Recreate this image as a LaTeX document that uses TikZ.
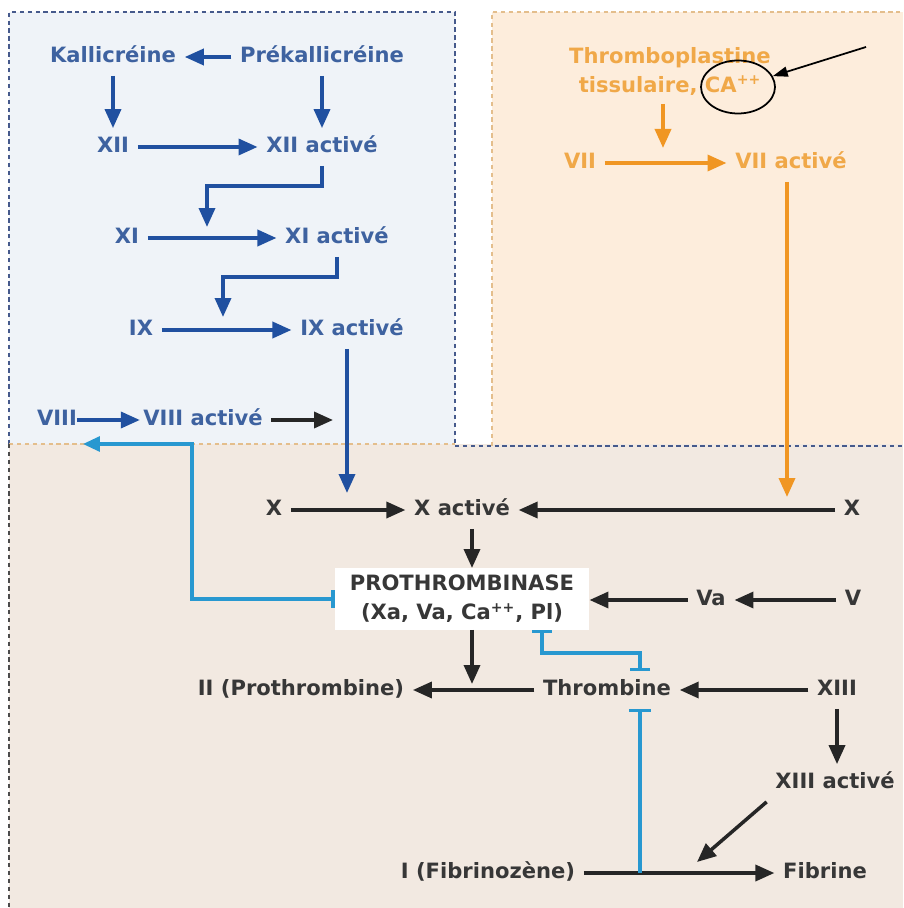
\documentclass[tikz,border=0pt]{standalone}
\usepackage{fontspec}
\setmainfont{DejaVu Sans}
\usetikzlibrary{arrows.meta,shapes.geometric}
\definecolor{bltxt}{RGB}{62,98,160}
\definecolor{blarr}{RGB}{32,80,160}
\definecolor{ortxt}{RGB}{240,168,72}
\definecolor{orarr}{RGB}{240,150,35}
\definecolor{bktxt}{RGB}{55,55,55}
\definecolor{cyinh}{RGB}{40,152,208}
\definecolor{bgbl}{RGB}{239,243,248}
\definecolor{bgor}{RGB}{253,237,220}
\definecolor{bgbt}{RGB}{242,233,225}
\definecolor{dtbl}{RGB}{70,90,140}
\definecolor{dtor}{RGB}{228,190,140}
\begin{document}
\begin{tikzpicture}[x=.02cm,y=-.02cm,
  lbl/.style={font=\fontsize{12}{16.5}\selectfont\bfseries,inner sep=2pt,outer sep=3pt,text height=9pt,text depth=2.5pt},
  lbltwo/.style={font=\fontsize{12}{16.5}\selectfont\bfseries,inner sep=2pt,outer sep=3pt,align=center},
  bl/.style={lbl,text=bltxt}, og/.style={lbl,text=ortxt}, bk/.style={lbl,text=bktxt},
  fl/.style={line width=2pt,-{Triangle[length=.38cm,width=.32cm]}},
  bfl/.style={fl,draw=blarr}, ofl/.style={fl,draw=orarr}, kfl/.style={fl,draw=black!85},
  inh/.style={line width=1.8pt,draw=cyinh},
  dot/.style={line width=1.6pt,dash pattern=on 2.5pt off 2pt}]
  \useasboundingbox (0,0) rectangle (903,908);
  \fill[bgbl] (9,12) rectangle (455,444); \fill[bgor] (492,12) rectangle (903,446); \fill[bgbt] (9,444) rectangle (903,908);
  \draw[dot,dtbl] (9,444) -- (9,12) -- (455,12) -- (455,444); \draw[dot,dtor] (492,446) -- (492,12) -- (903,12);
  \draw[dot,dtor] (9,444) -- (455,444); \draw[dot,dtbl] (455,446) -- (903,446); \draw[dot,black!70] (9,444) -- (9,908);

  \node[bl] (kal) at (113,57) {Kallicréine}; \node[bl] (prek) at (322,57) {Prékallicréine};
  \node[bl] (xii) at (113,147) {XII}; \node[bl] (xiia) at (322,147) {XII activé};
  \node[bl] (xi) at (127,238) {XI}; \node[bl] (xia) at (337,238) {XI activé};
  \node[bl] (ix) at (141,330) {IX}; \node[bl] (ixa) at (352,330) {IX activé};
  \node[bl] (viii) at (57,420) {VIII}; \node[bl] (viiia) at (203,420) {VIII activé};
  \node[lbltwo,text=ortxt] (thr) at (670,71) {Thromboplastine\\tissulaire, CA\textsuperscript{++}};
  \node[draw,ellipse,line width=1pt,minimum width=1.48cm,minimum height=1.06cm,inner sep=0pt] (circ) at (738,87) {};
  \node[og] (vii) at (580,163) {VII}; \node[og] (viia) at (791,163) {VII activé};
  \node[bk] (xl) at (274,510) {X}; \node[bk] (xa) at (462,510) {X activé}; \node[bk] (xr) at (852,510) {X};
  \node[lbltwo,text=bktxt,fill=white,minimum width=5.1cm,minimum height=1.24cm,outer sep=0pt] (prot) at (462,599) {PROTHROMBINASE\\(Xa, Va, Ca\textsuperscript{++}, Pl)};
  \node[bk] (va) at (711,600) {Va}; \node[bk] (v) at (853,600) {V};
  \node[bk] (ii) at (301,690) {II (Prothrombine)}; \node[bk] (thb) at (607,690) {Thrombine}; \node[bk] (xiii) at (837,690) {XIII};
  \node[bk] (xiiia) at (835,783) {XIII activé};
  \node[bk] (fgn) at (488,873) {I (Fibrinozène)}; \node[bk] (fib) at (825,873) {Fibrine};

  \coordinate (j1) at (207,227); \coordinate (j2) at (223,317); \coordinate (j3) at (663,148); \coordinate (j4) at (347,493);
  \coordinate (j5) at (787,497); \coordinate (j6) at (333,420); \coordinate (j7) at (472,684); \coordinate (j8) at (697,862);
  \coordinate (c1) at (192,444); \coordinate (c2) at (83,444); \coordinate (c3) at (542,653); \coordinate (c4) at (640,653);
  \coordinate (c5) at (640,873); \coordinate (p0) at (866,47);

  \draw[bfl] (prek) -- (kal); \draw[bfl] (kal) -- (xii); \draw[bfl] (prek) -- (xiia);
  \draw[bfl] (xii) -- (xiia); \draw[bfl] (xi) -- (xia); \draw[bfl] (ix) -- (ixa);
  \draw[bfl] (xiia.south) -- ++(0,20) -| (j1); \draw[bfl] (xia.south) -- ++(0,20) -| (j2);
  \draw[bfl] (ixa.south -| j4) -- (j4);
  \draw[bfl,shorten <=-5pt,shorten >=-3pt] (viii) -- (viiia); \draw[kfl] (viiia) -- (j6);
  \draw[line width=1pt,-{Triangle[length=.3cm,width=.2cm]}] (p0) -- (circ);
  \draw[ofl] (thr.south -| j3) -- (j3); \draw[ofl] (vii) -- (viia); \draw[ofl] (viia.south -| j5) -- (j5);
  \draw[kfl] (xl) -- (xa); \draw[kfl] (xr) -- (xa);
  \draw[kfl] (xa.south -| j7) -- (prot.north -| j7); \draw[kfl] (prot.south -| j7) -- (j7);
  \draw[kfl] (va) -- (prot.east |- va); \draw[kfl] (v) -- (va);
  \draw[kfl] (thb) -- (ii); \draw[kfl] (xiii) -- (thb); \draw[kfl] (xiii.south) -- (xiii.south |- xiiia.north);
  \draw[kfl] (xiiia.south west) -- (j8); \draw[kfl] (fgn) -- (fib);
  \draw[inh,{Bar[width=.36cm]}-{Triangle[length=.34cm,width=.3cm]}] (prot.west) -| (c1) -- (c2);
  \draw[inh,{Bar[width=.4cm]}-{Bar[width=.4cm]}] (prot.south -| c3) -- (c3) -- (c4) -- (thb.north -| c4);
  \draw[inh,-{Bar[width=.45cm]}] (c5) -- (thb.south -| c5);
\end{tikzpicture}
\end{document}
